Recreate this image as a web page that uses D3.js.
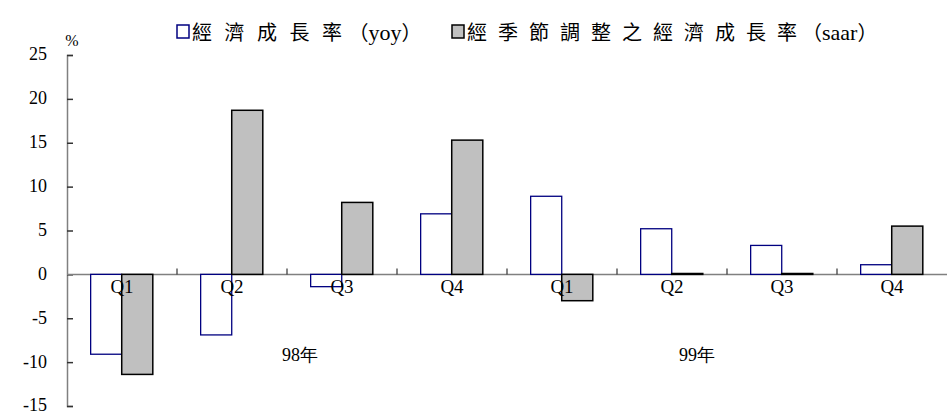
<!DOCTYPE html>
<html>
<head>
<meta charset="utf-8">
<script src="https://cdn.jsdelivr.net/npm/d3@7"></script>
<style>
  body { margin: 0; background: #fff; }
  text { fill: #000; }
  .serif { font-family: "Liberation Serif", "Times New Roman", Tinos, "DejaVu Serif", serif; }
  .cjk { font-family: "Noto Sans CJK TC", sans-serif; }
</style>
</head>
<body>
<script>
// data
var quarters = ["Q1", "Q2", "Q3", "Q4", "Q1", "Q2", "Q3", "Q4"];
var yoy  = [-9.1, -6.9, -1.4, 6.9, 8.9, 5.2, 3.3, 1.1];
var saar = [-11.4, 18.7, 8.2, 15.3, -3.0, 0.1, 0.1, 5.5];
var years = ["98年", "99年"];
var yTicks = [-15, -10, -5, 0, 5, 10, 15, 20, 25];
var seriesNames = ["經濟成長率", "經季節調整之經濟成長率"];
var seriesCodes = ["yoy", "saar"];

var width = 947, height = 415;
var margin = {top: 55, right: 0, bottom: 9, left: 67};

var svg = d3.select("body").append("svg")
  .attr("width", width)
  .attr("height", height);

var x = d3.scaleBand()
  .domain(d3.range(quarters.length))
  .range([margin.left, width - margin.right]);

var sub = d3.scaleBand()
  .domain(seriesCodes)
  .range([x.step() * 0.215, x.step() * 0.78]);

var y = d3.scaleLinear()
  .domain([-15, 25])
  .range([height - margin.bottom, margin.top]);

// y axis
var yAxis = svg.append("g")
  .attr("transform", "translate(" + margin.left + ",0)")
  .call(d3.axisRight(y).tickValues(yTicks).tickSize(6).tickFormat(""));
yAxis.select(".domain").attr("stroke", "#808080").attr("stroke-width", 1.5);
yAxis.selectAll(".tick line").attr("stroke", "#333").attr("stroke-width", 1.5);

svg.append("g").selectAll("text")
  .data(yTicks)
  .enter().append("text")
  .attr("class", "serif")
  .attr("x", 47)
  .attr("y", function(d) { return y(d); })
  .attr("dy", "0.3em")
  .attr("text-anchor", "end")
  .style("font-size", "18px")
  .text(function(d) { return d; });

svg.append("text")
  .attr("class", "serif")
  .attr("x", 72)
  .attr("y", 46)
  .attr("text-anchor", "middle")
  .style("font-size", "16px")
  .text("%");

var rows = quarters.map(function(q, i) { return {i: i, yoy: yoy[i], saar: saar[i]}; });

// zero line with category ticks
svg.append("line")
  .attr("x1", margin.left).attr("x2", width - margin.right)
  .attr("y1", y(0)).attr("y2", y(0))
  .attr("stroke", "#808080").attr("stroke-width", 1.5);

svg.append("g").selectAll("line")
  .data(d3.range(1, quarters.length))
  .enter().append("line")
  .attr("x1", function(i) { return x(i); })
  .attr("x2", function(i) { return x(i); })
  .attr("y1", y(0)).attr("y2", y(0) - 6)
  .attr("stroke", "#333").attr("stroke-width", 1.2);

// bars
var groups = svg.append("g").selectAll("g")
  .data(rows)
  .enter().append("g")
  .attr("transform", function(d) { return "translate(" + x(d.i) + ",0)"; });

groups.append("rect")
  .attr("x", sub("yoy"))
  .attr("width", sub.bandwidth())
  .attr("y", function(d) { return y(Math.max(0, d.yoy)); })
  .attr("height", function(d) { return Math.abs(y(d.yoy) - y(0)); })
  .attr("fill", "#fff")
  .attr("stroke", "#000080")
  .attr("stroke-width", 1.3);

groups.append("rect")
  .attr("x", sub("saar"))
  .attr("width", sub.bandwidth())
  .attr("y", function(d) { return y(Math.max(0, d.saar)); })
  .attr("height", function(d) { return Math.abs(y(d.saar) - y(0)); })
  .attr("fill", "#c0c0c0")
  .attr("stroke", "#000")
  .attr("stroke-width", 1.5);

// category labels
svg.append("g").selectAll("text")
  .data(rows)
  .enter().append("text")
  .attr("class", "serif")
  .attr("x", function(d) { return x(d.i) + x.bandwidth() / 2; })
  .attr("y", y(0) + 19)
  .attr("text-anchor", "middle")
  .style("font-size", "19px")
  .text(function(d) { return quarters[d.i]; });

// year labels
svg.append("g").selectAll("text")
  .data(years)
  .enter().append("text")
  .attr("class", "serif")
  .attr("x", function(d, i) { return i === 0 ? x(2) + 13 : x(5) + 80; })
  .attr("y", 361)
  .attr("text-anchor", "middle")
  .style("font-size", "18px")
  .text(function(d) { return d; });

// legend
var legendX = [177, 452];
var legend = svg.append("g").selectAll("g")
  .data(seriesNames)
  .enter().append("g")
  .attr("transform", function(d, i) { return "translate(" + legendX[i] + ",25)"; });

legend.append("rect")
  .attr("width", 12).attr("height", 13)
  .attr("fill", function(d, i) { return i === 0 ? "#fff" : "#c0c0c0"; })
  .attr("stroke", function(d, i) { return i === 0 ? "#000080" : "#000"; })
  .attr("stroke-width", 1.5);

var lt = legend.append("text")
  .attr("x", 15)
  .attr("y", 15)
  .style("font-size", "20px");

lt.append("tspan")
  .attr("class", "cjk")
  .attr("textLength", function(d) { return d.length * 30; })
  .attr("lengthAdjust", "spacing")
  .text(function(d) { return d; });

lt.append("tspan")
  .attr("class", "cjk")
  .attr("dx", -6)
  .text("（");
lt.append("tspan")
  .attr("class", "serif")
  .style("font-size", "22px")
  .text(function(d, i) { return seriesCodes[i]; });
lt.append("tspan")
  .attr("class", "cjk")
  .text("）");
</script>
</body>
</html>
